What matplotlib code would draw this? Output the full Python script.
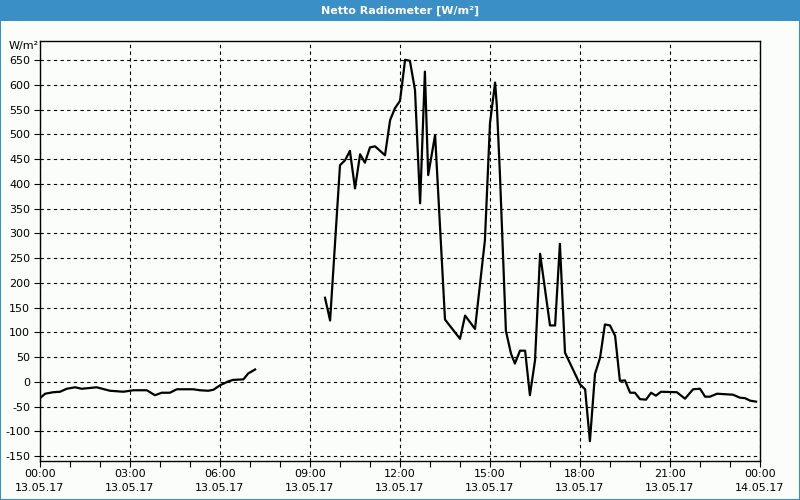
import matplotlib.pyplot as plt
from matplotlib.patches import Rectangle

# Nacht / Morgen (Stunden, W/m²)
t_night = [0.02, 0.17, 0.44, 0.67, 0.89, 1.17, 1.39, 1.89, 2.33, 2.78, 3.11, 3.56,
           3.83, 4.06, 4.33, 4.56, 5.11, 5.33, 5.61, 5.78, 6.0, 6.28, 6.44, 6.78,
           6.94, 7.17]
v_night = [-32, -24, -21, -20, -14, -11, -14, -11, -18, -20, -17, -17,
           -27, -22, -22, -15, -15, -17, -18, -16, -7, 1, 4, 5,
           17, 25]

# Tag / Abend
t_day = [9.5, 9.67, 10.0, 10.17, 10.33, 10.5, 10.67, 10.83, 11.0, 11.17, 11.5,
         11.67, 11.83, 12.0, 12.17, 12.33, 12.5, 12.67, 12.83, 12.94, 13.17,
         13.5, 14.0, 14.17, 14.5, 14.83, 15.0, 15.17, 15.23, 15.33, 15.53,
         15.7, 15.83, 16.0, 16.17, 16.33, 16.5, 16.67, 17.0, 17.17, 17.33,
         17.5, 18.0, 18.17, 18.33, 18.5, 18.67, 18.83, 19.0, 19.17, 19.33,
         19.5, 19.67, 19.83, 20.0, 20.2, 20.37, 20.53, 20.7, 21.23, 21.5,
         21.77, 22.0, 22.17, 22.33, 22.57, 23.1, 23.33, 23.5, 23.67, 23.87]
v_day = [170, 124, 438, 448, 467, 391, 460, 443, 474, 476, 458,
         529, 553, 568, 651, 649, 590, 361, 627, 418, 499,
         126, 87, 134, 107, 286, 523, 605, 556, 421, 103,
         57, 37, 63, 63, -27, 43, 259, 114, 114, 279,
         59, -5, -15, -120, 16, 49, 116, 114, 93, 2,
         3, -22, -22, -35, -36, -22, -28, -20, -21, -34,
         -15, -14, -30, -30, -24, -26, -32, -33, -38, -40]

xticks = list(range(0, 25, 3))
xlabels = ["00:00\n13.05.17", "03:00\n13.05.17", "06:00\n13.05.17",
           "09:00\n13.05.17", "12:00\n13.05.17", "15:00\n13.05.17",
           "18:00\n13.05.17", "21:00\n13.05.17", "00:00\n14.05.17"]
yticks = list(range(-150, 651, 50))

fig = plt.figure(figsize=(8, 5), dpi=100, facecolor="#fbfdfb")

# Titelleiste
fig.patches.append(Rectangle((0, 1 - 21 / 500), 1, 21 / 500, transform=fig.transFigure,
                             facecolor="#3b8fc7", edgecolor="none"))
fig.patches.append(Rectangle((0.0006, 0.001), 0.9988, 0.998, transform=fig.transFigure,
                             facecolor="none", edgecolor="#3b8fc7", linewidth=1.5))
fig.text(0.5, 1 - 10.5 / 500, "Netto Radiometer [W/m²]", color="white",
         fontsize=8, fontweight="bold", ha="center", va="center")

ax = fig.add_axes([40 / 800, 1 - 461 / 500, 720 / 800, 420.5 / 500])
ax.set_facecolor("#fbfdfb")
ax.plot(t_night, v_night, color="black", lw=1.6)
ax.plot(t_day, v_day, color="black", lw=1.6)

ax.set_xlim(0, 24)
ax.set_ylim(-160, 690)
ax.set_xticks(xticks)
ax.set_xticklabels(xlabels, fontsize=8, linespacing=1.5)
ax.set_xticks(range(25), minor=True)
ax.set_yticks(yticks)
ax.set_yticklabels([str(v) for v in yticks], fontsize=8)
ax.tick_params(axis="both", which="both", direction="out", length=4, width=0.8, pad=3)
ax.tick_params(axis="x", which="major", pad=2)
ax.grid(True, which="major", color="black", linestyle=(0, (3, 3)), linewidth=0.8)
for s in ax.spines.values():
    s.set_linewidth(1.0)

fig.text(24 / 800, 1 - 46 / 500, "W/m²", fontsize=8, ha="center", va="center")

plt.savefig("out.png", dpi=100, facecolor=fig.get_facecolor())
